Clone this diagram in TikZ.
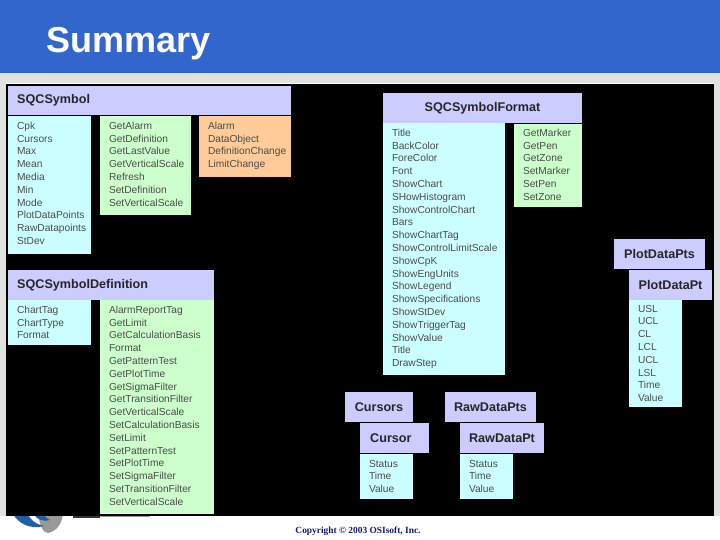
\documentclass[tikz,border=0pt]{standalone}
\usepackage{fontspec}
\setmainfont{Liberation Sans}
\newfontfamily\copyfont{Liberation Serif}
\definecolor{headblue}{HTML}{3366CC}
\definecolor{bandgray}{HTML}{E0E2E0}
\definecolor{boxhead}{HTML}{CCCCFF}
\definecolor{boxcyan}{HTML}{CCFFFF}
\definecolor{boxgreen}{HTML}{CCFFCC}
\definecolor{boxorange}{HTML}{FFCC99}
\definecolor{copyblue}{HTML}{1A1A66}
\definecolor{logoblue}{HTML}{1F5FA8}
\tikzset{
	panel/.style={anchor=north west,inner sep=0pt,outer sep=0pt},
	headbox/.style={panel,fill=boxhead},
	cyanbox/.style={panel,fill=boxcyan},
	greenbox/.style={panel,fill=boxgreen},
	orangebox/.style={panel,fill=boxorange},
	headlabel/.style={anchor=west,inner sep=0pt,text=black!85,font=\bfseries\fontsize{12.6}{14}\selectfont},
	listlabel/.style={panel,align=left,text=black!70,font=\fontsize{10.2}{12.8}\selectfont}
}
\begin{document}
\begin{tikzpicture}[x=1pt,y=-1pt]
	\useasboundingbox (0,0) rectangle (720,540);
	\fill[white] (0,0) rectangle (720,540);
	\fill[bandgray] (0,73) rectangle (720,83);
	\fill[bandgray] (0,83) rectangle (6,516);
	\fill[bandgray] (714,83) rectangle (720,516);
	\fill[headblue] (0,0) rectangle (720,73);
	\node[anchor=base west,inner sep=0pt,text=white,font=\bfseries\fontsize{36}{40}\selectfont] (title) at (46,53) {Summary};
	% logo under the black area
	\fill[black!40] (38,514) .. controls (40,526) and (43,533) .. (48,533) .. controls (58,531) and (62,522) .. (63,514) -- cycle;
	\fill[logoblue] (13,514) .. controls (18,523) and (30,530) .. (44,526) .. controls (36,524) and (30,520) .. (28,514) -- cycle;
	\fill[logoblue] (34,514) .. controls (36,519) and (42,522) .. (50,520) .. controls (46,518) and (44,516) .. (44,514) -- cycle;
	\fill[black!80] (73,514) rectangle (100,518);
	\fill[black!40] (100,514) rectangle (150,517);
	\fill[black] (6,84) rectangle (714,516);
	% SQCSymbol
	\node[headbox,minimum width=283,minimum height=29] (symbolhead) at (8,86) {};
	\node[headlabel] (symbollabel) at ([xshift=9pt]symbolhead.west) {SQCSymbol};
	\node[cyanbox,minimum width=83,minimum height=138] (symbolprops) at (8,116) {};
	\node[listlabel] (symbolpropstext) at ([shift={(9pt,-6pt)}]symbolprops.north west) {Cpk\\Cursors\\Max\\Mean\\Media\\Min\\Mode\\PlotDataPoints\\RawDatapoints\\StDev};
	\node[greenbox,minimum width=91,minimum height=99] (symbolcalls) at (100,116) {};
	\node[listlabel] (symbolcallstext) at ([shift={(9pt,-6pt)}]symbolcalls.north west) {GetAlarm\\GetDefinition\\GetLastValue\\GetVerticalScale\\Refresh\\SetDefinition\\SetVerticalScale};
	\node[orangebox,minimum width=92,minimum height=61] (symbolevents) at (199,116) {};
	\node[listlabel] (symboleventstext) at ([shift={(9pt,-6pt)}]symbolevents.north west) {Alarm\\DataObject\\DefinitionChange\\LimitChange};
	% SQCSymbolDefinition
	\node[headbox,minimum width=206,minimum height=30] (defhead) at (8,270) {};
	\node[headlabel] (deflabel) at ([xshift=9pt]defhead.west) {SQCSymbolDefinition};
	\node[cyanbox,minimum width=83,minimum height=45] (defprops) at (8,300) {};
	\node[listlabel] (defpropstext) at ([shift={(9pt,-6pt)}]defprops.north west) {ChartTag\\ChartType\\Format};
	\node[greenbox,minimum width=114,minimum height=214] (defcalls) at (100,300) {};
	\node[listlabel] (defcallstext) at ([shift={(9pt,-6pt)}]defcalls.north west) {AlarmReportTag\\GetLimit\\GetCalculationBasis\\Format\\GetPatternTest\\GetPlotTime\\GetSigmaFilter\\GetTransitionFilter\\GetVerticalScale\\SetCalculationBasis\\SetLimit\\SetPatternTest\\SetPlotTime\\SetSigmaFilter\\SetTransitionFilter\\SetVerticalScale};
	% SQCSymbolFormat
	\node[headbox,minimum width=199,minimum height=30] (formathead) at (383,93) {};
	\node[headlabel,anchor=center] (formatlabel) at (formathead.center) {SQCSymbolFormat};
	\node[cyanbox,minimum width=122,minimum height=252] (formatprops) at (383,123) {};
	\node[listlabel] (formatpropstext) at ([shift={(9pt,-6pt)}]formatprops.north west) {Title\\BackColor\\ForeColor\\Font\\ShowChart\\SHowHistogram\\ShowControlChart\\Bars\\ShowChartTag\\ShowControlLimitScale\\ShowCpK\\ShowEngUnits\\ShowLegend\\ShowSpecifications\\ShowStDev\\ShowTriggerTag\\ShowValue\\Title\\DrawStep};
	\node[greenbox,minimum width=68,minimum height=83] (formatcalls) at (514,124) {};
	\node[listlabel] (formatcallstext) at ([shift={(9pt,-5pt)}]formatcalls.north west) {GetMarker\\GetPen\\GetZone\\SetMarker\\SetPen\\SetZone};
	% PlotDataPts
	\node[headbox,minimum width=91,minimum height=30] (plotshead) at (614,239) {};
	\node[headlabel,anchor=center] (plotslabel) at (plotshead.center) {PlotDataPts};
	\node[headbox,minimum width=83,minimum height=30] (plothead) at (629,270) {};
	\node[headlabel,anchor=center] (plotlabel) at (plothead.center) {PlotDataPt};
	\node[cyanbox,minimum width=53,minimum height=107] (plotprops) at (629,300) {};
	\node[listlabel] (plotpropstext) at ([shift={(9pt,-5pt)}]plotprops.north west) {USL\\UCL\\CL\\LCL\\UCL\\LSL\\Time\\Value};
	% Cursors
	\node[headbox,minimum width=68,minimum height=30] (cursorshead) at (345,392) {};
	\node[headlabel,anchor=center] (cursorslabel) at (cursorshead.center) {Cursors};
	\node[headbox,minimum width=69,minimum height=30] (cursorhead) at (360,423) {};
	\node[headlabel] (cursorlabel) at ([xshift=10pt]cursorhead.west) {Cursor};
	\node[cyanbox,minimum width=53,minimum height=45] (cursorprops) at (360,454) {};
	\node[listlabel] (cursorpropstext) at ([shift={(9pt,-6pt)}]cursorprops.north west) {Status\\Time\\Value};
	% RawDataPts
	\node[headbox,minimum width=91,minimum height=30] (rawshead) at (445,392) {};
	\node[headlabel,anchor=center] (rawslabel) at (rawshead.center) {RawDataPts};
	\node[headbox,minimum width=84,minimum height=30] (rawhead) at (460,423) {};
	\node[headlabel,anchor=center] (rawlabel) at (rawhead.center) {RawDataPt};
	\node[cyanbox,minimum width=53,minimum height=45] (rawprops) at (460,454) {};
	\node[listlabel] (rawpropstext) at ([shift={(9pt,-6pt)}]rawprops.north west) {Status\\Time\\Value};
	% footer
	\node[inner sep=0pt,text=copyblue,font=\copyfont\bfseries\fontsize{9.4}{11}\selectfont] (copyright) at (358,531) {Copyright © 2003 OSIsoft, Inc.};
\end{tikzpicture}
\end{document}
